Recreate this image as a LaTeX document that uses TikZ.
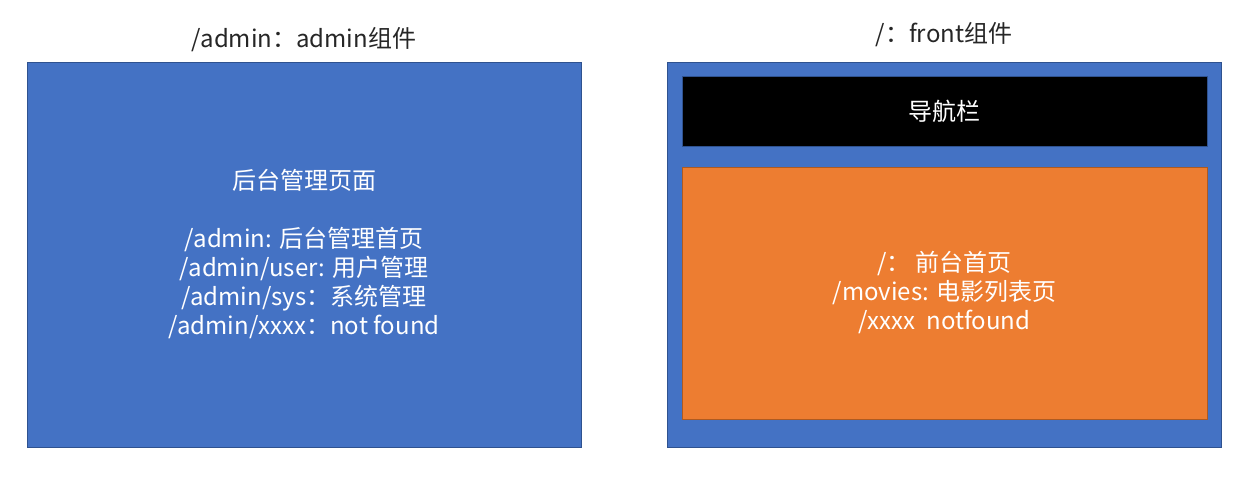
\documentclass[tikz,border=0pt]{standalone}
\usepackage{fontspec}
\setmainfont{Noto Sans CJK SC}
\usetikzlibrary{positioning}
\definecolor{pageblue}{RGB}{68, 114, 196}
\definecolor{edgeblue}{RGB}{47, 82, 143}
\definecolor{pageorange}{RGB}{237, 125, 49}
\definecolor{edgeorange}{RGB}{174, 90, 33}

\begin{document}
\begin{tikzpicture}[x=0.75pt, y=-0.75pt,
    page/.style={rectangle, draw=edgeblue, fill=pageblue, line width=0.75pt,
                 minimum width=415.5pt, minimum height=288.75pt,
                 align=center, text=white, font=\fontsize{18}{21.75}\selectfont},
    navbar/.style={rectangle, draw=edgeblue, fill=black, line width=0.75pt,
                   minimum width=393.75pt, minimum height=52.5pt,
                   text=white, font=\fontsize{18}{21.75}\selectfont},
    content/.style={rectangle, draw=edgeorange, fill=pageorange, line width=0.75pt,
                    minimum width=393.75pt, minimum height=189pt,
                    align=center, text=white, font=\fontsize{18}{21.75}\selectfont},
    caption/.style={font=\fontsize{18}{21.75}\selectfont, text=black!85}
]
\useasboundingbox (0,0) rectangle (1253,489);

%% ── admin component ─────────────────────────────────────────────────────────
\node[caption] (admintitle) at (304, 40) {/admin：admin组件};
\node[page] (admin) at (304, 254.5) {后台管理页面\\[21.75pt]
    /admin: 后台管理首页\\
    /admin/user: 用户管理\\
    /admin/sys：系统管理\\
    /admin/xxxx：not found};

%% ── front component ─────────────────────────────────────────────────────────
\node[caption] (fronttitle) at (944, 35) {/：front组件};
\node[page] (front) at (944, 254.5) {};
\node[navbar] (nav) at (944.5, 111) {导航栏};
\node[content] (main) at (944.5, 293) {/：\ 前台首页\\
    /movies: 电影列表页\\
    /xxxx\ \ notfound};

\end{tikzpicture}
\end{document}
